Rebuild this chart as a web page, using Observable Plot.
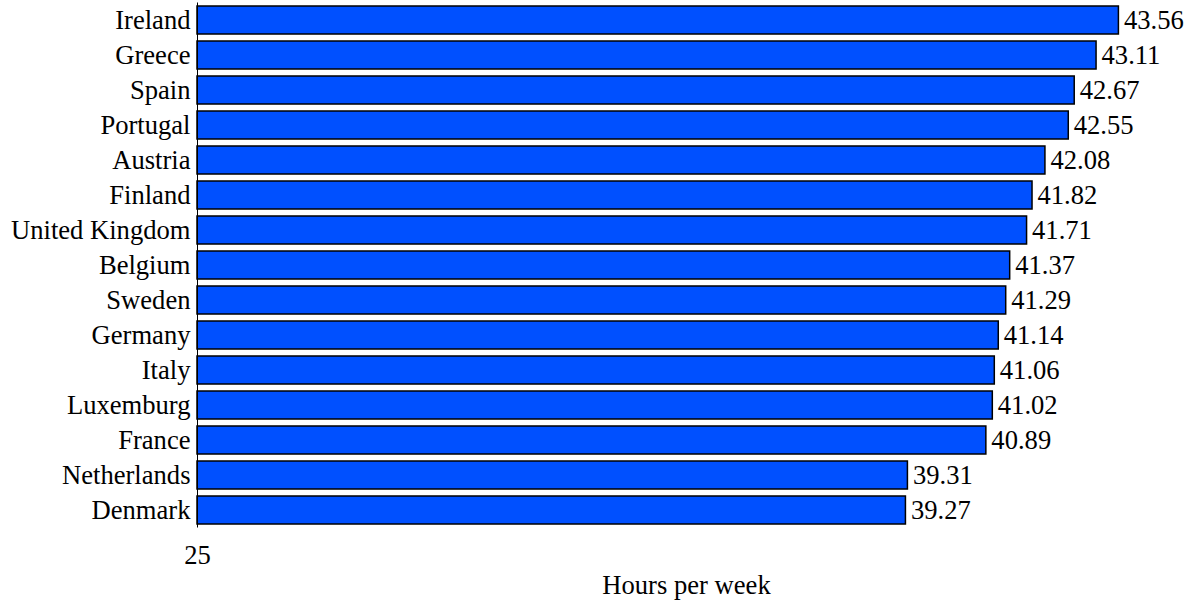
<!DOCTYPE html>
<html><head><meta charset="utf-8">
<script src="https://cdn.jsdelivr.net/npm/d3@7"></script>
<script src="https://cdn.jsdelivr.net/npm/@observablehq/plot@0.6"></script>
<style>body{margin:0;background:#fff} svg, svg text{font-family:"Liberation Serif","Times New Roman",serif !important}</style>
</head><body><div id="chart"></div>
<script>
const countries = ["Ireland","Greece","Spain","Portugal","Austria","Finland","United Kingdom","Belgium","Sweden","Germany","Italy","Luxemburg","France","Netherlands","Denmark"];
const hours = [43.56,43.11,42.67,42.55,42.08,41.82,41.71,41.37,41.29,41.14,41.06,41.02,40.89,39.31,39.27];
const xTicks = [25];
const xLabel = "Hours per week";
const data = countries.map((c,i)=>({country:c, hours:hours[i]}));
const chart = Plot.plot({
  width:1195, height:600, marginTop:2.5, marginBottom:72.5, marginLeft:197, marginRight:20,
  style:{fontFamily:"'Liberation Serif', serif", fontSize:"26.6px", color:"#000", background:"#fff"},
  x:{domain:[25,44.7], ticks:xTicks, tickSize:0, tickPadding:17, label:xLabel, labelArrow:false, labelAnchor:"center", labelOffset:66},
  y:{domain:countries, label:null, tickSize:0, tickPadding:7, paddingInner:0.2, paddingOuter:0.1, round:false},
  marks:[
    Plot.barX(data,{x1:()=>xTicks[0], x2:"hours", y:"country", fill:"#0050ff", stroke:"#000", strokeWidth:1.5}),
    Plot.text(data,{x:"hours", y:"country", text:d=>d.hours.toFixed(2), textAnchor:"start", dx:5, fontSize:26.6, fill:"#000"}),
    Plot.ruleX(xTicks, {stroke:"#000", strokeWidth:1})
  ]
});
document.getElementById("chart").appendChild(chart);
</script></body></html>
